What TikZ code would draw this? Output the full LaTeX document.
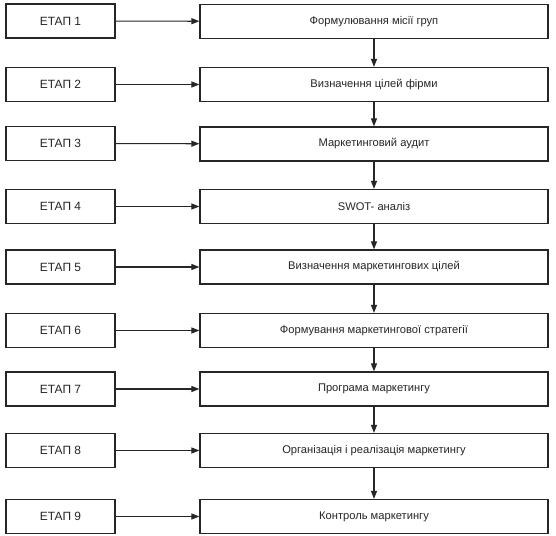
\documentclass[tikz,border=0pt]{standalone}
\usepackage{fontspec}
\setmainfont{Liberation Sans}
\usetikzlibrary{arrows.meta}
\begin{document}
\begin{tikzpicture}[x=1bp,y=-1bp,
  stage/.style={draw=black!85,line width=1.2bp,minimum width=109bp,minimum height=34bp,inner sep=0pt,font=\fontsize{12}{14}\selectfont,text=black!85},
  actbox/.style={draw=black!85,line width=1.2bp,minimum width=348bp,minimum height=34bp,inner sep=0pt,font=\fontsize{11.2}{13}\selectfont,text=black!85},
  arr/.style={draw=black!85,line width=1.1bp,-{Triangle[length=8bp,width=6bp]}}]
\useasboundingbox (0,0) rectangle (556,536);
\fill[white] (0,0) rectangle (556,536);
\node[stage] (s1) at (60.5,21) {ЕТАП 1};
\node[stage] (s2) at (60.5,84.5) {ЕТАП 2};
\node[stage] (s3) at (60.5,143.5) {ЕТАП 3};
\node[stage] (s4) at (60.5,206.5) {ЕТАП 4};
\node[stage] (s5) at (60.5,267) {ЕТАП 5};
\node[stage] (s6) at (60.5,330.5) {ЕТАП 6};
\node[stage] (s7) at (60.5,389) {ЕТАП 7};
\node[stage] (s8) at (60.5,450.5) {ЕТАП 8};
\node[stage] (s9) at (60.5,516.5) {ЕТАП 9};
\node[actbox] (a1) at (374,21.5) {Формулювання місії груп};
\node[actbox] (a2) at (374,84.5) {Визначення цілей фірми};
\node[actbox] (a3) at (374,144) {Маркетинговий аудит};
\node[actbox] (a4) at (374,206.5) {SWOT- аналіз};
\node[actbox] (a5) at (374,267) {Визначення маркетингових цілей};
\node[actbox] (a6) at (374,330.5) {Формування маркетингової стратегії};
\node[actbox] (a7) at (374,389) {Програма маркетингу};
\node[actbox] (a8) at (374,450.5) {Організація і реалізація маркетингу};
\node[actbox] (a9) at (374,516.5) {Контроль маркетингу};
\foreach \i in {1,...,9} { \draw[arr] (s\i) -- (a\i); }
\foreach \i/\j in {1/2,2/3,3/4,4/5,5/6,6/7,7/8,8/9} { \draw[arr] (a\i) -- (a\j); }
\end{tikzpicture}
\end{document}
